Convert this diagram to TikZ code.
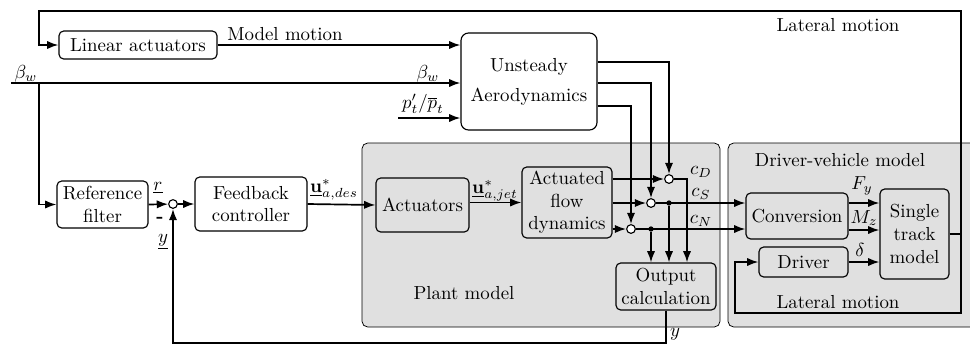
\documentclass[tikz,border=0pt]{standalone}
\usetikzlibrary{arrows.meta,calc,positioning}

\def\pxu{0.53pt}
\tikzset{
  blk/.style={draw, semithick, rounded corners=2.5pt, align=center, inner sep=1pt},
  sumc/.style={draw, semithick, circle, fill=white, inner sep=0pt, minimum size=4.6pt},
  jdot/.style={circle, fill, inner sep=0pt, minimum size=2.8pt},
  arr/.style={line width=0.9pt, -{Latex[length=6pt,width=4.4pt]}},
  ln/.style={line width=0.9pt},
  region/.style={draw, fill=black!12, rounded corners=3pt},
}

\begin{document}
\begin{tikzpicture}[x=\pxu, y=-\pxu]
  \useasboundingbox (0,0) rectangle (970,345);
  \clip (0,0) rectangle (970,345);

  % grey areas
  \draw[region] (362,143) rectangle (720,327);
  \draw[region] (728,143) rectangle (995,327);
  \node (plantlbl) at (464,293) {Plant model};
  \node (dvmlbl) at (840,160) {Driver-vehicle model};
  \node (latlbl) at (838,302) {Lateral motion};
  \node (toplbl) at (838,25) {Lateral motion};

  % blocks
  \node[blk, fill=white, minimum width=158*\pxu, minimum height=28*\pxu] (lin) at (138,45) {Linear actuators};
  \node[blk, fill=white, rounded corners=4pt, minimum width=136*\pxu, minimum height=97*\pxu] (aero) at (529,81.5) {Unsteady\\[4pt]Aerodynamics};
  \node[blk, fill=white, minimum width=91*\pxu, minimum height=47*\pxu] (ref) at (102.5,204.5) {Reference\\filter};
  \node[blk, fill=white, minimum width=112*\pxu, minimum height=54*\pxu] (fb) at (251,204) {Feedback\\controller};
  \node[blk, minimum width=93*\pxu, minimum height=54*\pxu] (act) at (422.5,205) {Actuators};
  \node[blk, minimum width=90*\pxu, minimum height=71*\pxu] (afd) at (567,202.5) {Actuated\\flow\\dynamics};
  \node[blk, minimum width=100*\pxu, minimum height=47*\pxu] (out) at (666,286.5) {Output\\calculation};
  \node[blk, minimum width=102*\pxu, minimum height=46*\pxu] (conv) at (797,216) {Conversion};
  \node[blk, minimum width=69*\pxu, minimum height=90*\pxu] (stm) at (914.5,234) {Single\\track\\model};
  \node[blk, minimum width=89*\pxu, minimum height=30*\pxu] (drv) at (803.5,262) {Driver};

  % junctions
  \node[sumc] (sum1) at (173,204) {};
  \node[sumc] (sD) at (669,179) {};
  \node[sumc] (sS) at (651,203) {};
  \node[sumc] (sN) at (631,229) {};
  \node[jdot] (dS) at (sD |- sS) {};
  \node[jdot] (dN) at (sS |- sN) {};

  \coordinate (bw) at (11,83);
  \coordinate (bwb) at (39,83);
  \coordinate (pin) at (398,118);
  \coordinate (topl) at (39,11);
  \coordinate (latR) at (961,234);
  \coordinate (lbot) at (735,313);
  \coordinate (fbk) at (173,343);
  \coordinate (aD) at ($(aero.east)+(0,-19.5)$);
  \coordinate (aS) at ($(aero.east)+(0,1.5)$);
  \coordinate (aN) at ($(aero.east)+(0,24.5)$);
  \coordinate (cF) at ($(conv.east)+(0,-13)$);
  \coordinate (cM) at ($(conv.east)+(0,14)$);

  % inputs to the aerodynamics
  \draw[arr] (lin.east) -- (lin.east -| aero.west);
  \node (mmlbl) at (285,34) {Model motion};
  \draw[arr] (bw) -- (bw -| aero.west);
  \node (bwlbl1) at (26,74) {$\beta_w$};
  \node (bwlbl2) at (428,74) {$\beta_w$};
  \draw[arr] (pin) -- (pin -| aero.west);
  \node (plbl) at (423,104) {$p_t'/\overline{p}_t$};

  % control loop
  \draw[arr] (bwb) |- (ref.west);
  \draw[arr] (ref.east) -- (sum1);
  \node (rlbl) at (158,188) {$\underline{r}$};
  \node (minus) at (160,220) {\textbf{-}};
  \node (ylbl) at (163,242) {$\underline{y}$};
  \draw[arr] (sum1) -- (fb.west);
  \draw[arr] (fb.east) -- (act.west);
  \node (udes) at (334,190) {$\underline{\mathbf{u}}^*_{a,des}$};
  \draw[arr] (act.east |- afd.west) -- (afd.west);
  \node (ujet) at (495,191) {$\underline{\mathbf{u}}^*_{a,jet}$};

  % force coefficients
  \draw[arr] (afd.east |- sD) -- (sD);
  \draw[arr] (afd.east |- sS) -- (sS);
  \draw[arr] (afd.east |- sN) -- (sN);
  \draw[arr] (aD) -| (sD);
  \draw[arr] (aS) -| (sS);
  \draw[arr] (aN) -| (sN);
  \draw[arr] (sD) -| ($(out.north)+(21,0)$);
  \draw[arr] (sS) -- (sS -| conv.west);
  \draw[arr] (sN) -- (sN -| conv.west);
  \draw[arr] (dS) -- (dS |- out.north);
  \draw[arr] (dN) -- (dN |- out.north);
  \node (cD) at (701,172) {$c_D$};
  \node (cS) at (701,194) {$c_S$};
  \node (cN) at (701,221) {$c_N$};

  % feedback
  \draw[arr] (out.south) |- (fbk) -- (sum1);
  \node (youtlbl) at (675,334) {$y$};

  % driver-vehicle model
  \draw[arr] (cF) -- (cF -| stm.west);
  \node (Fy) at (862,186) {$F_y$};
  \draw[arr] (cM) -- (cM -| stm.west);
  \node (Mz) at (864,218) {$M_z$};
  \draw[arr] (drv.east) -- (drv.east -| stm.west);
  \node (dlbl) at (860,250) {$\delta$};
  \draw[ln] (stm.east) -- (latR);
  \draw[arr] (latR) |- (lbot) |- (drv.west);
  \draw[arr] (latR) |- (topl) |- (lin.west);
\end{tikzpicture}
\end{document}
